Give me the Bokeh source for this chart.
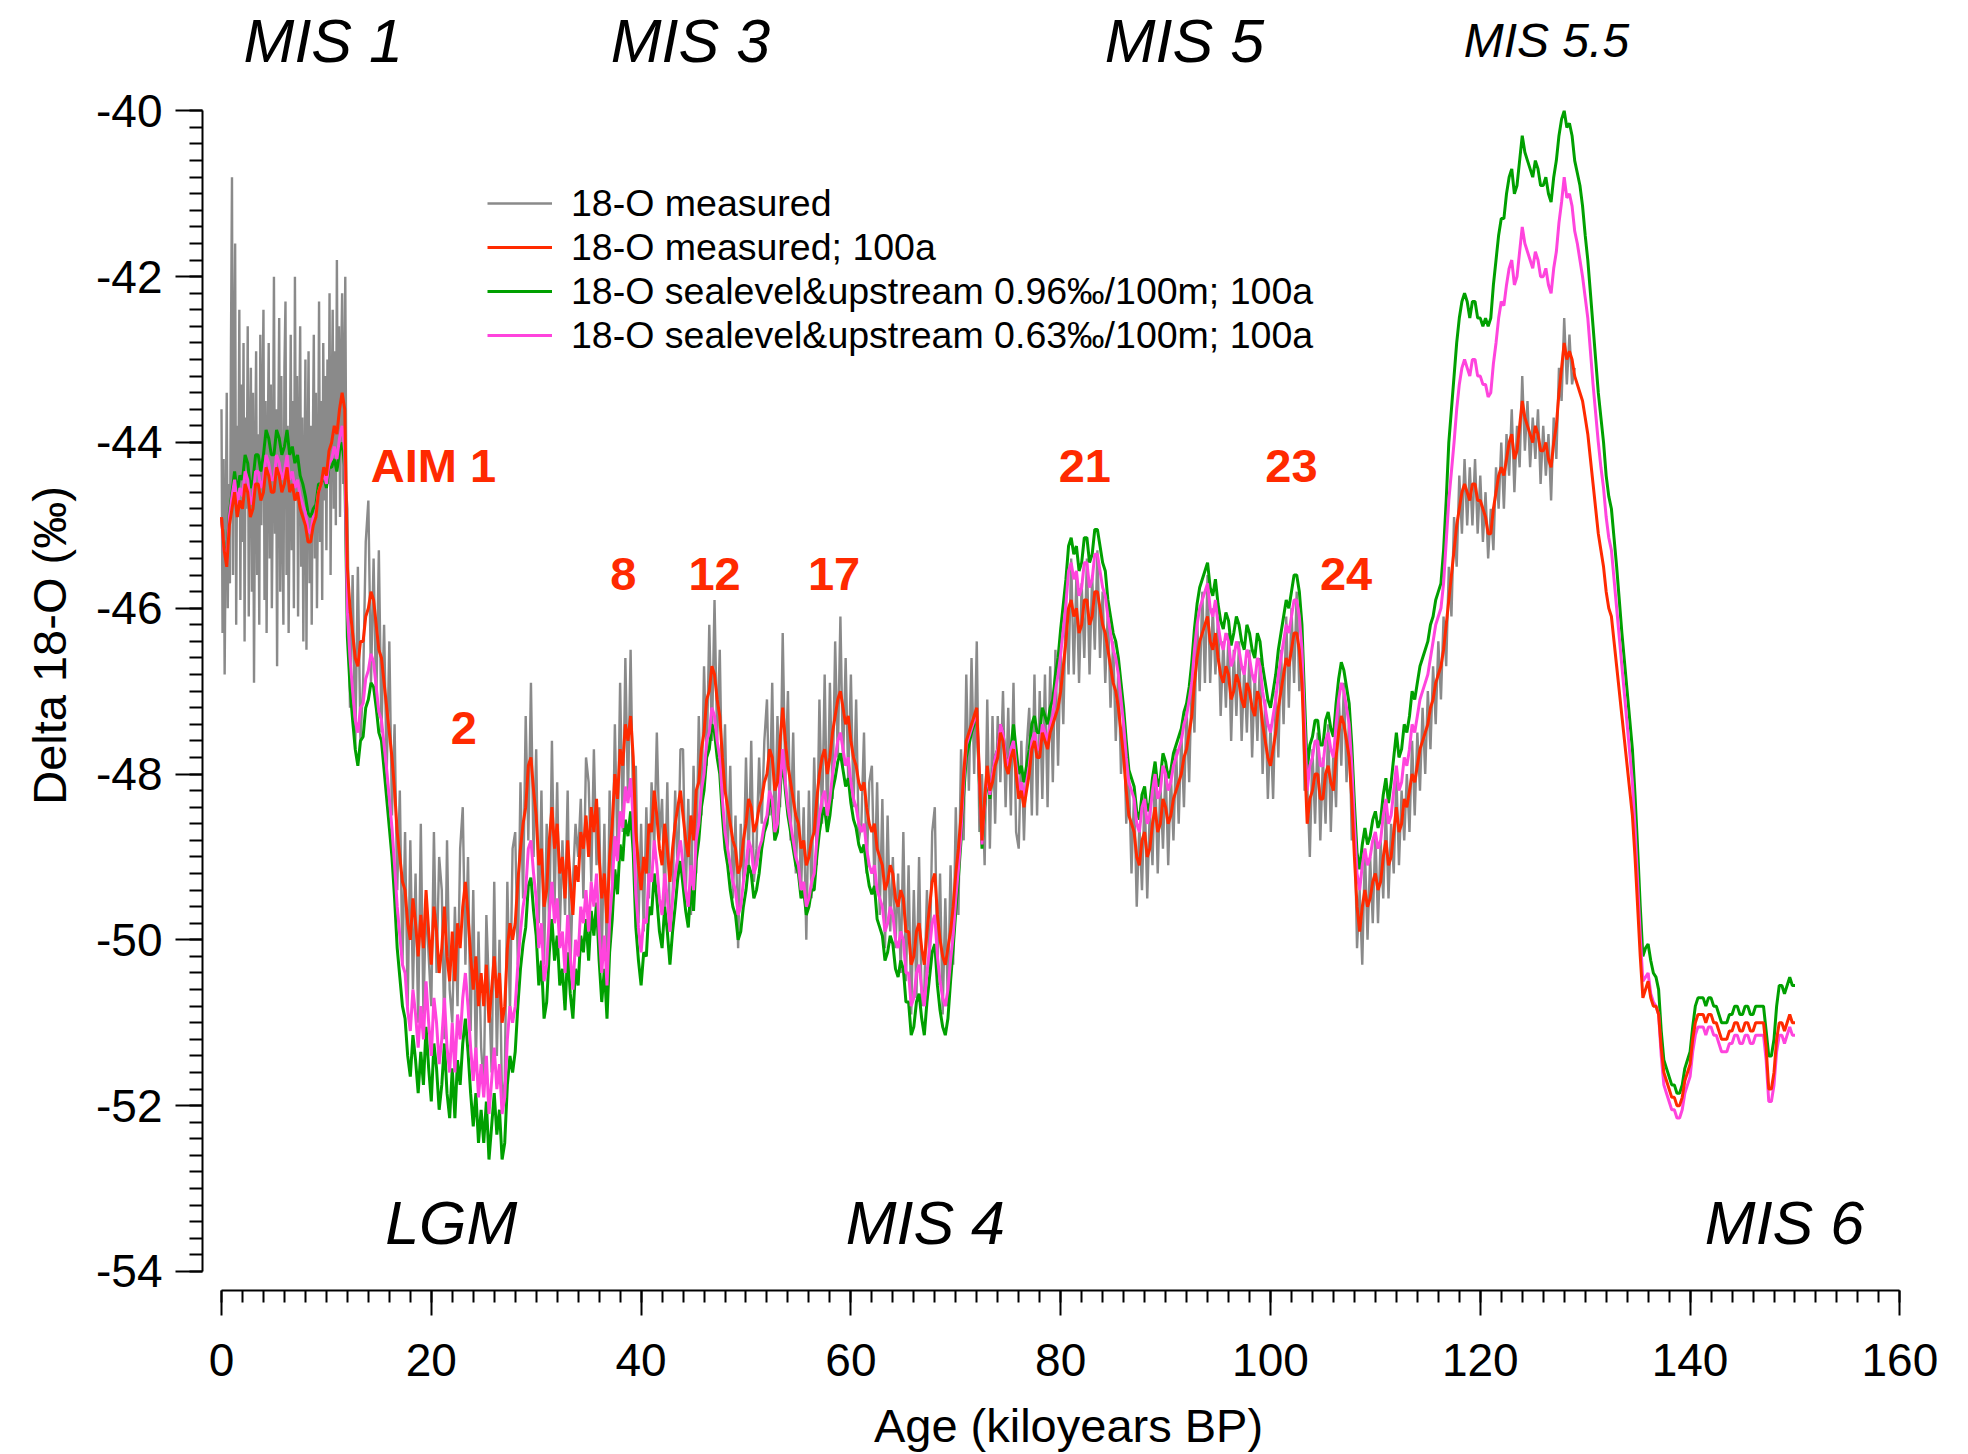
import numpy as np
from bokeh.plotting import figure
from bokeh.models import (ColumnDataSource, Range1d, SingleIntervalTicker, Legend,
                          LegendItem, PrintfTickFormatter)
from bokeh.core.properties import value
from bokeh.embed import file_html
from bokeh.resources import INLINE

# --- delta 18-O records (permil) ---------------------------------------------
# raw measured record, Holocene part: one value every 0.1 kyr from 0 to 11.9 kyr BP
d18o_raw_holocene = [
    -43.6, -46.3, -44.2, -46.8, -45.1, -43.4, -46.0, -44.5, -45.7, -42.9,
    -40.8, -45.6, -43.0, -41.6, -46.2, -43.8, -44.9, -42.4, -45.9, -43.3,
    -45.2, -42.8, -46.4, -43.7, -44.8, -42.6, -46.1, -44.0, -43.1, -45.8,
    -43.4, -46.9, -44.3, -42.9, -45.6, -43.9, -46.2, -42.7, -45.0, -43.6,
    -42.4, -45.9, -43.5, -46.3, -44.2, -42.8, -45.4, -43.3, -46.0, -44.4,
    -42.0, -45.1, -43.6, -46.7, -44.0, -42.5, -45.8, -43.2, -44.9, -46.2,
    -43.1, -42.3, -45.6, -43.8, -46.3, -44.6, -42.7, -45.3, -43.5, -46.0,
    -42.0, -44.7, -43.2, -46.1, -44.0, -42.6, -45.5, -43.7, -46.4, -44.5,
    -43.0, -46.5, -44.3, -42.9, -45.7, -43.8, -46.2, -44.1, -42.7, -45.4,
    -43.4, -46.0, -44.6, -42.3, -45.2, -43.5, -45.9, -42.8, -44.7, -43.2,
    -45.3, -43.0, -44.5, -42.2, -45.6, -43.6, -42.4, -44.8, -42.9, -45.0,
    -41.8, -44.3, -42.6, -44.9, -43.1, -42.2, -44.5, -43.4, -42.0, -44.6,
]

# raw measured record, glacial part: one value every 0.25 kyr from 12 to 129 kyr BP
d18o_raw_glacial = [
    -44.8, -47.2, -45.6, -47.7,
    -45.5, -47.6, -46.9, -45.2,
    -44.7, -46.9, -45.4, -47.2,
    -45.3, -47.5, -46.2, -48.0,
    -46.4, -48.5, -47.4, -49.4,
    -48.2, -50.3, -48.7, -50.8,
    -48.8, -50.6, -49.2, -51.0,
    -48.6, -50.9, -49.5, -50.2,
    -50.8, -48.7, -50.4, -49.0,
    -49.4, -51.2, -48.8, -50.6,
    -51.0, -49.6, -50.8, -48.9,
    -48.4, -50.3, -49.0, -51.1,
    -49.4, -51.5, -49.9, -51.3,
    -51.8, -49.7, -50.6, -51.6,
    -49.3, -51.4, -50.0, -52.0,
    -51.7, -49.3, -50.9, -48.9,
    -48.7, -50.3, -48.1, -49.5,
    -47.3, -48.8, -46.9, -49.0,
    -47.7, -49.8, -48.2, -50.3,
    -48.6, -49.9, -47.6, -49.6,
    -48.1, -49.9, -48.8, -49.7,
    -48.2, -50.4, -49.3, -48.6,
    -49.0, -48.3, -49.5, -47.8,
    -48.1, -49.3, -47.7, -49.1,
    -48.4, -50.2, -48.6, -50.5,
    -48.2, -49.4, -47.4, -49.0,
    -46.9, -48.7, -46.6, -48.3,
    -46.5, -48.5, -47.9, -49.8,
    -48.6, -49.9, -48.4, -49.5,
    -48.1, -48.9, -47.5, -48.8,
    -48.3, -49.6, -48.1, -49.9,
    -49.5, -48.2, -49.3, -47.7,
    -47.7, -49.5, -48.3, -49.7,
    -47.9, -49.2, -47.3, -48.5,
    -46.7, -47.9, -46.2, -47.6,
    -45.9, -47.6, -46.5, -48.4,
    -47.4, -49.0, -47.9, -49.5,
    -48.5, -50.1, -48.6, -49.3,
    -47.8, -49.1, -47.6, -49.3,
    -48.9, -47.8, -48.6, -47.6,
    -47.1, -48.5, -46.9, -48.8,
    -47.3, -48.4, -46.3, -48.1,
    -47.0, -48.8, -47.5, -49.2,
    -48.2, -49.4, -48.4, -50.0,
    -48.2, -49.5, -47.8, -49.1,
    -47.1, -48.6, -46.8, -48.7,
    -46.9, -48.3, -46.4, -47.8,
    -46.1, -47.9, -46.6, -48.1,
    -46.8, -48.4, -47.1, -48.8,
    -48.6, -47.5, -49.2, -48.1,
    -47.9, -49.4, -48.1, -49.7,
    -48.3, -50.1, -48.5, -49.9,
    -49.0, -50.1, -49.2, -50.4,
    -48.7, -50.5, -49.1, -50.9,
    -49.4, -50.7, -49.0, -50.8,
    -50.6, -49.4, -50.4, -48.7,
    -48.4, -50.4, -49.2, -50.9,
    -49.5, -50.8, -49.1, -50.3,
    -48.4, -49.7, -47.7, -48.8,
    -46.8, -48.2, -46.6, -48.0,
    -46.4, -48.7, -48.0, -49.1,
    -47.1, -48.9, -47.3, -48.6,
    -47.3, -48.1, -47.0, -48.4,
    -47.2, -48.5, -46.9, -48.7,
    -48.9, -47.6, -48.8, -47.7,
    -47.2, -48.5, -46.8, -48.5,
    -47.0, -48.3, -46.8, -48.4,
    -46.7, -48.1, -46.5, -47.9,
    -46.5, -47.4, -45.9, -46.8,
    -45.4, -46.8, -45.6, -46.9,
    -45.7, -46.6, -45.4, -46.8,
    -45.6, -46.5, -45.3, -46.6,
    -45.8, -46.9, -46.0, -47.2,
    -46.4, -47.6, -46.7, -48.0,
    -47.3, -48.6, -48.0, -49.2,
    -48.2, -49.6, -48.6, -49.4,
    -48.2, -49.5, -48.4, -49.1,
    -47.9, -49.2, -48.1, -48.9,
    -47.9, -49.1, -48.0, -48.8,
    -47.7, -48.6, -47.5, -48.4,
    -47.2, -48.1, -46.8, -47.5,
    -46.1, -47.0, -45.8, -46.9,
    -45.6, -46.9, -46.0, -46.8,
    -46.1, -47.3, -46.4, -47.2,
    -46.3, -47.6, -46.5, -47.3,
    -46.4, -47.6, -46.7, -47.5,
    -46.5, -47.8, -46.8, -47.6,
    -46.6, -48.0, -47.1, -48.3,
    -47.4, -48.3, -47.0, -47.8,
    -46.5, -47.4, -46.1, -47.2,
    -46.0, -46.9, -45.8, -47.0,
    -46.4, -48.2, -48.1, -49.0,
    -47.7, -48.6, -47.5, -48.8,
    -47.8, -48.6, -47.4, -48.7,
    -47.7, -48.4, -47.0, -47.9,
    -46.9, -48.1, -47.3, -48.8,
    -48.5, -50.1, -49.4, -50.3,
    -48.9, -50.0, -49.0, -49.8,
    -48.7, -49.8, -48.8, -49.5,
    -48.4, -49.5, -48.6, -49.2,
    -48.0, -49.1, -48.2, -48.8,
    -48.0, -48.7, -47.6, -48.5,
    -47.5, -48.2, -47.2, -48.0,
    -47.0, -47.7, -46.7, -47.4,
    -46.4, -47.1, -46.1, -46.7,
    -45.5, -46.1, -44.9, -45.5,
    -44.4, -45.1, -44.2, -45.0,
    -44.3, -45.0, -44.2, -45.1,
    -44.4, -45.2, -44.6, -45.4,
    -44.8, -45.3, -44.3, -44.8,
    -44.0, -44.8, -43.9, -44.4,
    -43.6, -44.6, -43.8, -44.3,
    -43.2, -44.1, -43.5, -44.3,
    -43.7, -44.2, -43.6, -44.5,
    -43.8, -44.4, -43.9, -44.7,
    -43.7, -44.2, -43.1, -43.5,
    -42.5, -43.3, -42.7, -43.3,
    -43.1,
]

# measured record, 100 a values, every 0.25 kyr from 0 to 150 kyr BP
d18o_100a = [
    -44.9, -45.3, -45.5, -45.0, -44.8, -44.6, -44.9, -44.7,
    -44.8, -44.5, -44.6, -44.9, -44.8, -44.5, -44.5, -44.7,
    -44.6, -44.3, -44.4, -44.6, -44.6, -44.3, -44.4, -44.6,
    -44.5, -44.3, -44.6, -44.5, -44.7, -44.6, -44.8, -44.9,
    -45.0, -45.2, -45.2, -45.0, -44.9, -44.6, -44.5, -44.3,
    -44.4, -44.1, -44.0, -43.8, -43.9, -43.6, -43.4, -43.6,
    -45.5, -46.0, -46.3, -46.6, -46.7, -46.4, -46.4, -46.1,
    -46.0, -45.8, -45.9, -46.2, -46.5, -46.6, -46.9, -47.2,
    -47.5, -47.8, -48.2, -48.7, -49.0, -49.3, -49.4, -49.8,
    -50.0, -49.5, -49.8, -50.2, -49.7, -50.1, -49.4, -49.9,
    -50.3, -49.6, -49.9, -50.4, -50.1, -49.6, -50.2, -50.5,
    -49.9, -50.5, -49.8, -50.1, -49.6, -49.3, -49.7, -50.2,
    -50.6, -50.2, -50.8, -50.4, -50.8, -50.3, -51.0, -50.6,
    -50.2, -50.7, -50.4, -51.0, -50.8, -50.1, -49.8, -50.0,
    -49.8, -49.3, -48.9, -48.6, -48.4, -47.9, -47.8, -48.2,
    -48.5, -49.1, -48.9, -49.6, -49.4, -48.8, -48.4, -48.9,
    -48.6, -49.2, -49.0, -49.5, -48.8, -49.3, -49.7, -49.1,
    -49.3, -48.7, -48.9, -48.5, -49.0, -48.4, -48.7, -48.3,
    -49.0, -49.5, -49.2, -49.8, -49.0, -48.6, -48.0, -48.3,
    -47.7, -47.9, -47.4, -47.6, -47.3, -47.8, -48.7, -49.1,
    -49.4, -49.0, -49.2, -48.6, -48.7, -48.2, -48.5, -48.9,
    -49.1, -48.6, -48.9, -49.3, -48.9, -48.6, -48.4, -48.2,
    -48.5, -48.8, -49.0, -48.5, -48.8, -48.2, -48.1, -47.7,
    -47.5, -47.1, -47.0, -46.7, -46.8, -47.1, -47.3, -47.8,
    -48.2, -48.4, -48.6, -48.8, -48.9, -49.2, -49.1, -48.8,
    -48.6, -48.3, -48.4, -48.7, -48.6, -48.4, -48.3, -48.1,
    -48.0, -47.7, -47.8, -48.2, -48.1, -47.6, -47.2, -47.6,
    -47.9, -48.1, -48.3, -48.5, -48.6, -48.9, -48.8, -49.1,
    -49.0, -48.8, -48.7, -48.3, -48.0, -47.8, -47.7, -48.0,
    -47.8, -47.5, -47.3, -47.1, -47.0, -47.2, -47.4, -47.3,
    -47.6, -47.8, -47.9, -48.1, -48.2, -48.1, -48.4, -48.6,
    -48.7, -48.6, -48.9, -49.0, -49.1, -49.4, -49.3, -49.1,
    -49.2, -49.5, -49.6, -49.4, -49.5, -49.9, -49.9, -50.3,
    -50.2, -49.9, -49.8, -50.1, -50.3, -49.9, -49.6, -49.3,
    -49.2, -49.7, -50.0, -50.2, -50.3, -50.1, -49.9, -49.6,
    -49.2, -48.9, -48.5, -48.0, -47.6, -47.5, -47.4, -47.3,
    -47.2, -48.0, -48.8, -48.3, -47.9, -48.2, -48.1, -47.9,
    -47.8, -47.5, -47.6, -47.9, -48.0, -47.8, -47.7, -48.0,
    -48.3, -48.2, -48.4, -48.2, -48.0, -47.7, -47.6, -47.8,
    -47.8, -47.5, -47.6, -47.7, -47.5, -47.4, -47.3, -47.2,
    -47.0, -46.7, -46.4, -46.0, -45.9, -46.1, -46.0, -46.3,
    -46.2, -45.9, -45.9, -46.2, -46.1, -45.8, -45.8, -46.0,
    -46.2, -46.3, -46.5, -46.7, -46.9, -47.0, -47.2, -47.5,
    -47.8, -48.2, -48.5, -48.6, -48.7, -49.0, -49.1, -48.8,
    -48.7, -49.0, -48.9, -48.6, -48.4, -48.7, -48.6, -48.3,
    -48.4, -48.6, -48.5, -48.3, -48.2, -48.1, -48.0, -47.8,
    -47.7, -47.5, -47.3, -46.9, -46.6, -46.4, -46.3, -46.2,
    -46.1, -46.4, -46.5, -46.3, -46.6, -46.8, -46.9, -46.7,
    -46.8, -47.1, -47.0, -46.8, -46.9, -47.1, -47.2, -46.9,
    -47.0, -47.2, -47.3, -47.0, -47.1, -47.4, -47.6, -47.8,
    -47.9, -47.7, -47.5, -47.2, -47.0, -46.8, -46.6, -46.7,
    -46.5, -46.3, -46.3, -46.5, -46.9, -47.8, -48.6, -48.3,
    -48.2, -48.0, -48.0, -48.3, -48.3, -48.0, -47.9, -48.1,
    -48.2, -47.8, -47.5, -47.3, -47.4, -47.6, -47.8, -48.3,
    -49.0, -49.6, -49.9, -49.6, -49.4, -49.6, -49.5, -49.3,
    -49.2, -49.4, -49.3, -49.0, -48.8, -49.1, -49.0, -48.7,
    -48.4, -48.7, -48.6, -48.3, -48.4, -48.2, -48.0, -48.1,
    -47.9, -47.7, -47.6, -47.5, -47.4, -47.2, -47.1, -46.9,
    -46.8, -46.7, -46.5, -46.2, -45.9, -45.6, -45.3, -45.0,
    -44.8, -44.6, -44.5, -44.6, -44.7, -44.5, -44.5, -44.7,
    -44.7, -44.8, -44.9, -45.1, -45.1, -44.8, -44.6, -44.4,
    -44.3, -44.4, -44.2, -44.0, -43.9, -44.2, -44.1, -43.8,
    -43.5, -43.7, -43.8, -43.9, -44.0, -43.8, -43.9, -44.1,
    -44.1, -44.0, -44.2, -44.3, -44.0, -43.8, -43.4, -43.1,
    -42.8, -43.0, -42.9, -43.0, -43.2, -43.3, -43.4, -43.5,
    -43.7, -43.9, -44.2, -44.5, -44.8, -45.1, -45.3, -45.5,
    -45.8, -46.0, -46.1, -46.4, -46.7, -47.0, -47.3, -47.6,
    -47.9, -48.2, -48.5, -49.0, -49.6, -50.2, -50.7, -50.6,
    -50.5, -50.7, -50.8, -50.8, -50.9, -51.3, -51.6, -51.7,
    -51.8, -51.9, -51.9, -52.0, -52.0, -51.9, -51.7, -51.6,
    -51.5, -51.2, -51.0, -50.9, -50.9, -50.9, -51.0, -50.9,
    -50.9, -51.0, -51.0, -51.1, -51.2, -51.2, -51.2, -51.1,
    -51.1, -51.0, -51.0, -51.1, -51.1, -51.0, -51.0, -51.1,
    -51.1, -51.0, -51.0, -51.0, -51.0, -51.3, -51.8, -51.8,
    -51.6, -51.2, -51.0, -51.0, -51.1, -51.0, -50.9, -51.0,
    -51.0,
]

# sea level and upstream corrected, 0.96 permil/100 m, 100 a values every 0.25 kyr
d18o_corr_096 = [
    -44.9, -45.25, -45.4, -44.85, -44.6, -44.35, -44.6, -44.4,
    -44.45, -44.15, -44.25, -44.55, -44.45, -44.15, -44.15, -44.35,
    -44.15, -43.85, -43.95, -44.15, -44.15, -43.85, -43.95, -44.15,
    -44.05, -43.85, -44.15, -44.05, -44.25, -44.15, -44.4, -44.5,
    -44.65, -44.85, -44.9, -44.8, -44.75, -44.5, -44.5, -44.4,
    -44.55, -44.3, -44.3, -44.2, -44.35, -44.1, -44.0, -44.3,
    -46.35, -46.95, -47.35, -47.7, -47.9, -47.6, -47.55, -47.2,
    -47.1, -46.9, -46.95, -47.2, -47.5, -47.6, -47.95, -48.3,
    -48.65, -49.0, -49.5, -50.1, -50.45, -50.8, -50.95, -51.4,
    -51.65, -51.15, -51.45, -51.85, -51.35, -51.75, -51.05, -51.55,
    -51.95, -51.25, -51.55, -52.05, -51.75, -51.25, -51.85, -52.15,
    -51.55, -52.15, -51.45, -51.75, -51.25, -50.95, -51.35, -51.85,
    -52.25, -51.85, -52.45, -52.05, -52.45, -51.95, -52.65, -52.25,
    -51.85, -52.35, -52.05, -52.65, -52.45, -51.75, -51.4, -51.6,
    -51.35, -50.8, -50.35, -50.05, -49.85, -49.35, -49.25, -49.65,
    -49.95, -50.55, -50.25, -50.95, -50.75, -50.15, -49.75, -50.25,
    -49.95, -50.55, -50.35, -50.85, -50.15, -50.65, -50.95, -50.35,
    -50.55, -49.95, -50.15, -49.75, -50.25, -49.65, -49.95, -49.55,
    -50.25, -50.75, -50.35, -50.95, -50.15, -49.75, -49.15, -49.45,
    -48.85, -49.05, -48.55, -48.75, -48.45, -48.95, -49.85, -50.25,
    -50.55, -50.15, -50.2, -49.6, -49.7, -49.2, -49.5, -49.9,
    -50.1, -49.6, -49.9, -50.3, -49.9, -49.6, -49.25, -49.05,
    -49.35, -49.65, -49.85, -49.35, -49.65, -49.05, -48.8, -48.4,
    -48.2, -47.8, -47.7, -47.4, -47.5, -47.8, -48.0, -48.5,
    -48.9, -49.1, -49.4, -49.6, -49.7, -50.0, -49.9, -49.6,
    -49.4, -49.1, -49.2, -49.5, -49.4, -49.2, -48.9, -48.7,
    -48.6, -48.3, -48.4, -48.8, -48.7, -48.2, -47.8, -48.2,
    -48.5, -48.7, -48.9, -49.1, -49.2, -49.5, -49.4, -49.7,
    -49.6, -49.4, -49.4, -49.0, -48.7, -48.5, -48.4, -48.7,
    -48.5, -48.2, -48.05, -47.85, -47.75, -47.95, -48.15, -48.05,
    -48.35, -48.55, -48.65, -48.85, -48.95, -48.85, -49.15, -49.35,
    -49.45, -49.35, -49.75, -49.85, -49.95, -50.25, -50.15, -49.95,
    -50.05, -50.35, -50.45, -50.25, -50.35, -50.75, -50.75, -51.15,
    -51.05, -50.75, -50.65, -50.95, -51.15, -50.75, -50.45, -50.15,
    -50.05, -50.55, -50.85, -51.05, -51.15, -50.95, -50.5, -50.1,
    -49.65, -49.25, -48.8, -48.25, -47.8, -47.65, -47.5, -47.4,
    -47.3, -48.1, -48.9, -48.4, -48.0, -48.3, -48.0, -47.8,
    -47.7, -47.4, -47.5, -47.8, -47.9, -47.7, -47.4, -47.7,
    -48.0, -47.9, -48.1, -47.9, -47.7, -47.4, -47.3, -47.5,
    -47.5, -47.2, -47.3, -47.4, -47.2, -47.1, -46.8, -46.6,
    -46.25, -45.95, -45.65, -45.25, -45.15, -45.35, -45.25, -45.55,
    -45.45, -45.15, -45.15, -45.45, -45.35, -45.05, -45.05, -45.25,
    -45.45, -45.55, -45.9, -46.1, -46.3, -46.4, -46.6, -46.9,
    -47.2, -47.6, -47.95, -48.05, -48.15, -48.45, -48.55, -48.25,
    -48.15, -48.45, -48.35, -48.05, -47.85, -48.15, -48.05, -47.75,
    -47.85, -48.05, -47.95, -47.75, -47.65, -47.55, -47.45, -47.25,
    -47.15, -46.95, -46.65, -46.25, -45.95, -45.75, -45.65, -45.55,
    -45.45, -45.75, -45.85, -45.65, -45.95, -46.15, -46.25, -46.05,
    -46.15, -46.45, -46.3, -46.1, -46.2, -46.4, -46.5, -46.2,
    -46.3, -46.5, -46.6, -46.3, -46.4, -46.7, -46.9, -47.1,
    -47.2, -47.0, -46.8, -46.5, -46.3, -46.1, -45.9, -46.0,
    -45.8, -45.6, -45.6, -45.8, -46.2, -47.1, -47.95, -47.65,
    -47.55, -47.35, -47.35, -47.65, -47.65, -47.35, -47.25, -47.45,
    -47.55, -47.15, -46.85, -46.65, -46.75, -46.95, -47.15, -47.65,
    -48.35, -48.95, -49.15, -48.85, -48.65, -48.85, -48.75, -48.55,
    -48.45, -48.65, -48.55, -48.25, -48.05, -48.35, -48.1, -47.8,
    -47.5, -47.8, -47.7, -47.4, -47.5, -47.3, -47.0, -47.1,
    -46.9, -46.7, -46.6, -46.5, -46.4, -46.2, -46.1, -45.9,
    -45.8, -45.7, -45.3, -44.7, -44.0, -43.6, -43.2, -42.8,
    -42.5, -42.3, -42.2, -42.3, -42.5, -42.3, -42.3, -42.5,
    -42.5, -42.6, -42.5, -42.6, -42.5, -42.1, -41.8, -41.5,
    -41.3, -41.3, -41.0, -40.8, -40.7, -41.0, -40.9, -40.6,
    -40.3, -40.5, -40.6, -40.7, -40.8, -40.6, -40.7, -40.9,
    -40.9, -40.8, -41.0, -41.1, -40.8, -40.6, -40.3, -40.1,
    -40.0, -40.2, -40.15, -40.3, -40.6, -40.75, -40.9, -41.15,
    -41.5, -41.8, -42.2, -42.6, -43.0, -43.4, -43.7, -44.0,
    -44.4, -44.65, -44.8, -45.15, -45.5, -45.9, -46.3, -46.65,
    -47.0, -47.35, -47.7, -48.25, -48.9, -49.6, -50.2, -50.1,
    -50.05, -50.25, -50.4, -50.45, -50.6, -51.1, -51.45, -51.55,
    -51.65, -51.75, -51.75, -51.85, -51.85, -51.75, -51.55, -51.45,
    -51.35, -51.05, -50.8, -50.7, -50.7, -50.7, -50.8, -50.7,
    -50.7, -50.8, -50.8, -50.9, -51.0, -51.0, -51.0, -50.9,
    -50.9, -50.8, -50.8, -50.9, -50.9, -50.8, -50.8, -50.9,
    -50.9, -50.8, -50.8, -50.8, -50.8, -51.1, -51.4, -51.4,
    -51.2, -50.8, -50.55, -50.55, -50.65, -50.55, -50.45, -50.55,
    -50.55,
]

# sea level and upstream corrected, 0.63 permil/100 m, 100 a values every 0.25 kyr
d18o_corr_063 = [
    -44.9, -45.3, -45.45, -44.9, -44.65, -44.45, -44.75, -44.55,
    -44.65, -44.35, -44.45, -44.75, -44.65, -44.35, -44.35, -44.55,
    -44.45, -44.15, -44.25, -44.45, -44.45, -44.15, -44.25, -44.45,
    -44.35, -44.15, -44.45, -44.35, -44.55, -44.45, -44.65, -44.75,
    -44.85, -45.05, -45.1, -44.9, -44.85, -44.6, -44.5, -44.35,
    -44.5, -44.25, -44.2, -44.05, -44.2, -43.95, -43.8, -44.1,
    -46.05, -46.6, -47.0, -47.35, -47.5, -47.2, -47.15, -46.85,
    -46.75, -46.55, -46.65, -46.95, -47.25, -47.35, -47.65, -47.95,
    -48.3, -48.65, -49.1, -49.6, -49.95, -50.3, -50.4, -50.85,
    -51.1, -50.6, -50.9, -51.3, -50.8, -51.2, -50.5, -51.0,
    -51.4, -50.7, -51.0, -51.5, -51.2, -50.7, -51.3, -51.6,
    -51.0, -51.6, -50.9, -51.2, -50.7, -50.4, -50.8, -51.3,
    -51.7, -51.3, -51.9, -51.5, -51.9, -51.4, -52.1, -51.7,
    -51.3, -51.8, -51.5, -52.1, -51.9, -51.2, -50.8, -51.0,
    -50.8, -50.3, -49.9, -49.6, -49.4, -48.9, -48.8, -49.2,
    -49.5, -50.1, -49.8, -50.5, -50.3, -49.7, -49.3, -49.8,
    -49.5, -50.1, -49.9, -50.4, -49.7, -50.2, -50.6, -50.0,
    -50.2, -49.6, -49.8, -49.4, -49.9, -49.3, -49.6, -49.2,
    -49.9, -50.4, -49.95, -50.55, -49.75, -49.35, -48.75, -49.05,
    -48.45, -48.65, -48.15, -48.35, -48.05, -48.55, -49.45, -49.85,
    -50.15, -49.75, -49.8, -49.2, -49.3, -48.8, -49.1, -49.5,
    -49.7, -49.2, -49.5, -49.9, -49.5, -49.2, -49.0, -48.8,
    -49.1, -49.4, -49.6, -49.1, -49.4, -48.8, -48.6, -48.2,
    -48.0, -47.6, -47.5, -47.2, -47.3, -47.6, -47.8, -48.3,
    -48.7, -48.9, -49.1, -49.3, -49.4, -49.7, -49.6, -49.3,
    -49.1, -48.8, -48.9, -49.2, -49.1, -48.9, -48.8, -48.6,
    -48.5, -48.2, -48.3, -48.7, -48.6, -48.1, -47.7, -48.1,
    -48.4, -48.6, -48.8, -49.0, -49.1, -49.4, -49.3, -49.6,
    -49.5, -49.3, -49.2, -48.8, -48.5, -48.3, -48.2, -48.5,
    -48.3, -48.0, -47.8, -47.6, -47.5, -47.7, -47.9, -47.8,
    -48.1, -48.3, -48.4, -48.6, -48.7, -48.6, -48.9, -49.1,
    -49.2, -49.1, -49.4, -49.5, -49.6, -49.9, -49.8, -49.6,
    -49.7, -50.0, -50.1, -49.9, -50.0, -50.4, -50.4, -50.8,
    -50.7, -50.4, -50.3, -50.6, -50.8, -50.4, -50.1, -49.8,
    -49.7, -50.2, -50.5, -50.7, -50.8, -50.6, -50.25, -49.95,
    -49.5, -49.15, -48.7, -48.1, -47.65, -47.55, -47.45, -47.35,
    -47.25, -48.05, -48.85, -48.35, -47.95, -48.25, -48.0, -47.8,
    -47.7, -47.4, -47.5, -47.8, -47.9, -47.7, -47.6, -47.9,
    -48.2, -48.1, -48.3, -48.1, -47.9, -47.6, -47.5, -47.7,
    -47.7, -47.4, -47.5, -47.6, -47.4, -47.3, -47.0, -46.8,
    -46.55, -46.25, -45.95, -45.55, -45.45, -45.65, -45.55, -45.85,
    -45.75, -45.45, -45.45, -45.75, -45.65, -45.35, -45.35, -45.55,
    -45.75, -45.85, -46.1, -46.3, -46.5, -46.6, -46.8, -47.1,
    -47.4, -47.8, -48.1, -48.2, -48.3, -48.6, -48.7, -48.4,
    -48.3, -48.6, -48.5, -48.2, -48.0, -48.3, -48.2, -47.9,
    -48.0, -48.2, -48.1, -47.9, -47.8, -47.7, -47.6, -47.4,
    -47.3, -47.1, -46.9, -46.5, -46.2, -46.0, -45.9, -45.8,
    -45.7, -46.0, -46.1, -45.9, -46.2, -46.4, -46.5, -46.3,
    -46.4, -46.7, -46.6, -46.4, -46.5, -46.7, -46.8, -46.5,
    -46.6, -46.8, -46.9, -46.6, -46.7, -47.0, -47.2, -47.4,
    -47.5, -47.3, -47.1, -46.8, -46.6, -46.4, -46.2, -46.3,
    -46.1, -45.9, -45.9, -46.1, -46.5, -47.4, -48.2, -47.9,
    -47.8, -47.6, -47.6, -47.9, -47.9, -47.6, -47.5, -47.7,
    -47.8, -47.4, -47.1, -46.9, -47.0, -47.2, -47.4, -47.9,
    -48.6, -49.2, -49.4, -49.1, -48.9, -49.1, -49.0, -48.8,
    -48.7, -48.9, -48.8, -48.5, -48.3, -48.6, -48.5, -48.2,
    -47.9, -48.2, -48.1, -47.8, -47.9, -47.7, -47.4, -47.5,
    -47.3, -47.1, -47.0, -46.9, -46.8, -46.6, -46.4, -46.2,
    -46.1, -46.0, -45.7, -45.2, -44.7, -44.35, -44.0, -43.6,
    -43.3, -43.1, -43.0, -43.1, -43.2, -43.0, -43.0, -43.2,
    -43.2, -43.3, -43.3, -43.45, -43.4, -43.05, -42.8, -42.5,
    -42.3, -42.35, -42.1, -41.9, -41.8, -42.1, -42.0, -41.7,
    -41.4, -41.6, -41.7, -41.8, -41.9, -41.7, -41.8, -42.0,
    -42.0, -41.9, -42.1, -42.2, -41.9, -41.7, -41.35, -41.1,
    -40.8, -41.05, -41.0, -41.15, -41.45, -41.6, -41.8, -42.0,
    -42.25, -42.5, -42.9, -43.3, -43.65, -44.0, -44.3, -44.55,
    -44.9, -45.15, -45.3, -45.65, -46.0, -46.35, -46.7, -47.05,
    -47.4, -47.75, -48.1, -48.65, -49.3, -49.95, -50.5, -50.45,
    -50.4, -50.65, -50.75, -50.8, -50.9, -51.4, -51.75, -51.85,
    -51.95, -52.05, -52.05, -52.15, -52.15, -52.05, -51.85, -51.75,
    -51.65, -51.35, -51.15, -51.05, -51.05, -51.05, -51.15, -51.05,
    -51.05, -51.15, -51.15, -51.25, -51.35, -51.35, -51.35, -51.25,
    -51.25, -51.15, -51.15, -51.25, -51.25, -51.15, -51.15, -51.25,
    -51.25, -51.15, -51.15, -51.15, -51.15, -51.45, -51.95, -51.95,
    -51.75, -51.35, -51.15, -51.15, -51.25, -51.15, -51.05, -51.15,
    -51.15,
]

# sampling grids (kyr BP)
age_raw = np.concatenate([
    np.arange(len(d18o_raw_holocene)) * 0.1,
    12.0 + np.arange(len(d18o_raw_glacial)) * 0.25,
])
d18o_raw = d18o_raw_holocene + d18o_raw_glacial
age_100a = np.arange(len(d18o_100a)) * 0.25
age_096 = np.arange(len(d18o_corr_096)) * 0.25
age_063 = np.arange(len(d18o_corr_063)) * 0.25

# marine isotope stages and climate events
stage_top = ["MIS 1", "MIS 3", "MIS 5"]
stage_top_age = [9.7, 44.7, 91.8]
stage_top_val = [-39.16, -39.16, -39.16]

stage_sub = ["MIS 5.5"]
stage_sub_age = [126.3]
stage_sub_val = [-39.15]

stage_bottom = ["LGM", "MIS 4", "MIS 6"]
stage_bottom_age = [21.9, 67.1, 149.0]
stage_bottom_val = [-53.41, -53.41, -53.41]

events = ["AIM 1", "2", "8", "12", "17", "21", "23", "24"]
event_age = [20.2, 23.1, 38.3, 47.0, 58.4, 82.3, 102.0, 107.2]
event_val = [-44.28, -47.45, -45.59, -45.59, -45.59, -44.28, -44.28, -45.59]

x_tick_step = 20
y_tick_step = 2

# --- figure --------------------------------------------------------------------
FONT = "Liberation Sans"
GRAY = "#8a8a8a"
RED = "#ff2a00"
GREEN = "#00a000"
PINK = "#ff44dd"

p = figure(
    width=1968, height=1454,
    x_range=Range1d(-1.811, 163.3),
    y_range=Range1d(-54.23, -38.669),
    output_backend="svg", toolbar_location=None,
    min_border_left=202, min_border_right=34,
    min_border_top=0, min_border_bottom=164,
)
p.outline_line_color = None
p.grid.visible = False
p.background_fill_color = "white"
p.border_fill_color = "white"

# axes
xa = p.xaxis[0]
xa.bounds = (0, 160)
xa.ticker = SingleIntervalTicker(interval=x_tick_step, num_minor_ticks=10)
xa.formatter = PrintfTickFormatter(format="%d")
xa.axis_label = "Age (kiloyears BP)"
ya = p.yaxis[0]
ya.bounds = (-54, -40)
ya.ticker = SingleIntervalTicker(interval=y_tick_step, num_minor_ticks=10)
ya.formatter = PrintfTickFormatter(format="%d")
ya.axis_label = "Delta 18-O (\u2030)"

for ax in (xa, ya):
    ax.axis_line_color = "black"
    ax.axis_line_width = 2
    ax.major_tick_line_color = "black"
    ax.major_tick_line_width = 2
    ax.minor_tick_line_color = "black"
    ax.minor_tick_line_width = 2
    ax.major_tick_in = 0
    ax.minor_tick_in = 0
    ax.major_label_text_font = FONT
    ax.major_label_text_font_size = "46px"
    ax.major_label_text_color = "black"
    ax.axis_label_text_font = FONT
    ax.axis_label_text_font_size = "47px"
    ax.axis_label_text_font_style = "normal"
    ax.axis_label_text_color = "black"

xa.major_tick_out = 25
xa.minor_tick_out = 12
xa.major_label_standoff = 28
xa.axis_label_standoff = 20
ya.major_tick_out = 27
ya.minor_tick_out = 13
ya.major_label_standoff = 13
ya.axis_label_standoff = 17

# curves
r_raw = p.line(age_raw, d18o_raw, line_color=GRAY, line_width=2.4)
r_096 = p.line(age_096, d18o_corr_096, line_color=GREEN, line_width=3)
r_063 = p.line(age_063, d18o_corr_063, line_color=PINK, line_width=3)
r_100a = p.line(age_100a, d18o_100a, line_color=RED, line_width=3)

legend = Legend(
    items=[
        LegendItem(label="18-O measured", renderers=[r_raw]),
        LegendItem(label="18-O measured; 100a", renderers=[r_100a]),
        LegendItem(label="18-O sealevel&upstream 0.96\u2030/100m; 100a", renderers=[r_096]),
        LegendItem(label="18-O sealevel&upstream 0.63\u2030/100m; 100a", renderers=[r_063]),
    ],
    location=(285, 933),
    orientation="vertical",
    label_text_font=FONT,
    label_text_font_size="37.5px",
    label_text_color="black",
    glyph_width=65,
    glyph_height=44,
    label_height=44,
    label_standoff=19,
    spacing=0,
    padding=0,
    margin=0,
    border_line_alpha=0,
    background_fill_alpha=0,
)
p.add_layout(legend)

# stage labels
src_top = ColumnDataSource(dict(x=stage_top_age, y=stage_top_val, t=stage_top))
p.text(x="x", y="y", text="t", source=src_top, text_font=value(FONT),
       text_font_size="61px", text_font_style="italic", text_color="black",
       text_align="center", text_baseline="middle")

src_sub = ColumnDataSource(dict(x=stage_sub_age, y=stage_sub_val, t=stage_sub))
p.text(x="x", y="y", text="t", source=src_sub, text_font=value(FONT),
       text_font_size="48px", text_font_style="italic", text_color="black",
       text_align="center", text_baseline="middle")

src_bot = ColumnDataSource(dict(x=stage_bottom_age, y=stage_bottom_val, t=stage_bottom))
p.text(x="x", y="y", text="t", source=src_bot, text_font=value(FONT),
       text_font_size="61px", text_font_style="italic", text_color="black",
       text_align="center", text_baseline="middle")

src_ev = ColumnDataSource(dict(x=event_age, y=event_val, t=events))
p.text(x="x", y="y", text="t", source=src_ev, text_font=value(FONT),
       text_font_size="47px", text_font_style="bold", text_color=RED,
       text_align="center", text_baseline="middle")

open("out.html", "w").write(file_html(p, INLINE))
